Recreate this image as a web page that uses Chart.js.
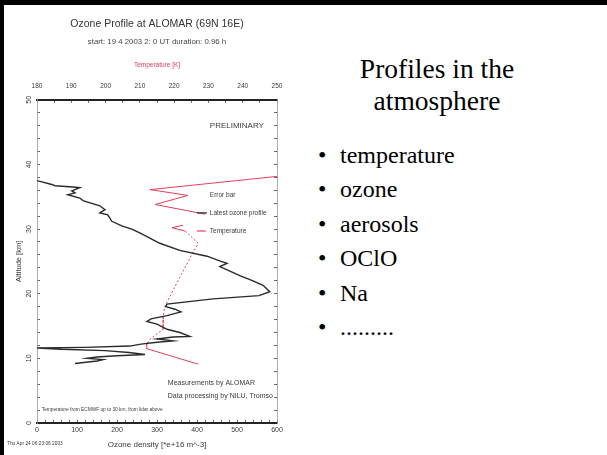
<!DOCTYPE html>
<html>
<head>
<meta charset="utf-8">
<script src="https://cdn.jsdelivr.net/npm/chart.js@4.4.0/dist/chart.umd.min.js"></script>
<style>
    body { margin: 0; width: 607px; height: 455px; overflow: hidden; background: #fff; position: relative; font-family: 'Liberation Serif', 'Times New Roman', serif; }
    #frameTop { position: absolute; left: 0; top: 0; width: 607px; height: 5px; background: #000; }
    #frameLeft { position: absolute; left: 0; top: 0; width: 4px; height: 455px; background: #000; }
    #chartBox { position: absolute; left: 0; top: 0; width: 300px; height: 455px; }
    #heading { position: absolute; left: 300px; top: 53px; width: 274px; text-align: center; font-size: 27.5px; line-height: 32px; color: #000; }
    #bullets { position: absolute; left: 318px; top: 138px; margin: 0; padding: 0; list-style: none; font-size: 24px; line-height: 34.4px; color: #000; }
    #bullets li { position: relative; padding-left: 22px; }
    #bullets li::before { content: '\2022'; position: absolute; left: 0; }
</style>
</head>
<body>
<div id="chartBox"><canvas id="ozoneChart" width="300" height="455"></canvas></div>
<div id="frameTop"></div>
<div id="frameLeft"></div>
<div id="heading">Profiles in the<br>atmosphere</div>
<ul id="bullets">
    <li>temperature</li>
    <li>ozone</li>
    <li>aerosols</li>
    <li>OClO</li>
    <li>Na</li>
    <li>.........</li>
</ul>
<script>
// ozone profile (altitude km, density 1e16 m^-3), read top to bottom
const ozoneAltitude = [37.5, 36.9, 36.7, 36.5, 36.4, 35.9, 35.6, 35.3, 34.8, 34.4, 33.6, 33.0, 32.5, 32.2, 31.2, 30.5, 30.0, 29.4,
    28.6, 27.8, 26.7, 25.8, 25.0, 24.7, 24.2, 23.4, 22.8, 22.0, 21.3, 20.3, 19.7, 19.2, 18.4, 18.0, 17.6, 17.2, 16.6, 16.1,
    15.7, 15.3, 14.5, 14.0, 13.4, 13.3, 13.0, 12.7, 12.5, 12.2, 11.9, 11.7, 11.6, 11.4, 11.2, 10.9, 10.6, 10.4, 10.2, 10.0,
    9.8, 9.6, 9.2];
const ozoneDensity = [0, 37, 45, 90, 107, 87, 95, 77, 107, 115, 157, 170, 157, 177, 187, 212, 237, 257,
    282, 307, 357, 425, 460, 475, 457, 485, 507, 540, 565, 582, 555, 440, 325, 322, 345, 360, 325, 285,
    275, 300, 325, 357, 382, 340, 300, 340, 300, 260, 232, 120, 0, 60, 170, 230, 270, 200, 150, 125,
    165, 150, 95];

// temperature (altitude km, K): lidar above 30 km, ECMWF below
const tempAltitude = [38.2, 36.1, 35.2, 33.8, 32.3, null, 30.6, 30.2, 29.7, 27.8, 25.5, 23.9, 18.1, 16.4, 14.5, 13.0, 12.2, 11.5, 9.1];
const temperatureK = [251, 213, 224, 214.5, 229, null, 222.6, 219.4, 223.2, 227, 224.6, 223, 217.3, 216.8, 216.8, 213, 212, 212, 227];

const altitudeTicks = [0, 10, 20, 30, 40, 50];
const ozoneTicks = [0, 100, 200, 300, 400, 500, 600];
const temperatureTicks = [180, 190, 200, 210, 220, 230, 240, 250];

const RED = '#e0405a';
const TEXT = '#3a3a3a';

function minorTicks(min, max, step) {
    const out = [];
    for (let v = min; v <= max + 1e-9; v += step) out.push({ value: Math.round(v * 100) / 100 });
    return out;
}

const annotations = {
    id: 'annotations',
    afterDraw(chart) {
        const ctx = chart.ctx;
        const xs = chart.scales.x, ys = chart.scales.y;
        const px = (v) => xs.getPixelForValue(v);
        const py = (v) => ys.getPixelForValue(v);
        ctx.save();
        ctx.fillStyle = TEXT;
        ctx.textBaseline = 'middle';
        ctx.textAlign = 'left';
        ctx.font = '8px "Liberation Sans", Arial, sans-serif';
        ctx.fillText('PRELIMINARY', px(432), py(45.9));

        ctx.font = '6.5px "Liberation Sans", Arial, sans-serif';
        ctx.fillText('Error bar', px(432), py(35.2));
        ctx.fillText('Latest ozone profile', px(432), py(32.5));
        ctx.fillText('Temperature', px(432), py(29.7));
        // legend samples
        ctx.lineWidth = 1.2;
        ctx.strokeStyle = '#222';
        ctx.beginPath();
        ctx.moveTo(px(400), py(32.5));
        ctx.lineTo(px(425), py(32.5));
        ctx.stroke();
        ctx.strokeStyle = RED;
        ctx.beginPath();
        ctx.moveTo(px(400), py(29.7));
        ctx.lineTo(px(422), py(29.7));
        ctx.stroke();

        ctx.font = '7px "Liberation Sans", Arial, sans-serif';
        ctx.fillText('Measurements by ALOMAR', px(327), py(6.25));
        ctx.fillText('Data processing by NILU, Tromso', px(327), py(4.2));

        ctx.font = '4.8px "Liberation Sans", Arial, sans-serif';
        ctx.fillText('Temperature from ECMWF up to 30 km, from lidar above', px(12), py(2.0));
        ctx.fillText('Thu Apr 24 06:23:06 2003', 7, 444);
        ctx.restore();
    }
};

const ozoneData = ozoneAltitude.map((a, i) => ({ x: ozoneDensity[i], y: a }));
const tempData = tempAltitude.map((a, i) => ({ x: temperatureK[i], y: a }));

Chart.defaults.font.family = '"Liberation Sans", Arial, sans-serif';
Chart.defaults.color = TEXT;

new Chart(document.getElementById('ozoneChart').getContext('2d'), {
    type: 'line',
    data: {
        datasets: [{
            label: 'Latest ozone profile',
            data: ozoneData,
            xAxisID: 'x',
            yAxisID: 'y',
            borderColor: '#2a2a2a',
            borderWidth: 1.4,
            pointRadius: 0,
            tension: 0
        }, {
            label: 'Temperature',
            data: tempData,
            xAxisID: 'x2',
            yAxisID: 'y',
            borderColor: RED,
            borderWidth: 1,
            pointRadius: 0,
            tension: 0,
            segment: {
                borderDash: (c) => (c.p0.parsed.y <= 29.7 && c.p1.parsed.y >= 11.4) ? [2, 2] : undefined
            }
        }]
    },
    options: {
        responsive: false,
        devicePixelRatio: 1,
        animation: false,
        layout: { padding: { left: 0, right: 20, top: 0, bottom: 0 } },
        plugins: {
            legend: { display: false },
            tooltip: { enabled: false },
            title: {
                display: true,
                fullSize: false,
                text: 'Ozone Profile at ALOMAR (69N 16E)',
                color: '#333',
                font: { size: 10.5, weight: 'normal' },
                padding: { top: 18, bottom: 4 }
            },
            subtitle: {
                display: true,
                fullSize: false,
                text: 'start: 19 4 2003 2: 0 UT duration: 0.96 h',
                color: '#444',
                font: { size: 7.8, weight: 'normal' },
                padding: { top: 2.5, bottom: 0 }
            }
        },
        scales: {
            x: {
                type: 'linear',
                position: 'bottom',
                min: 0,
                max: 600,
                afterFit: (s) => { s.height = 32; },
                afterBuildTicks: (s) => { s.ticks = minorTicks(0, 600, 20); },
                ticks: {
                    autoSkip: false,
                    maxRotation: 0,
                    padding: 5.8,
                    font: { size: 7 },
                    callback: (v) => ozoneTicks.includes(v) ? String(v) : ''
                },
                grid: { drawOnChartArea: false, tickLength: -3, color: '#666' },
                border: { color: '#222', width: 2 },
                title: {
                    display: true,
                    text: 'Ozone density [*e+16 m^-3]',
                    font: { size: 8 },
                    padding: { top: 0, bottom: 5.2 }
                }
            },
            x2: {
                type: 'linear',
                position: 'top',
                min: 180,
                max: 250,
                afterFit: (s) => { s.height = 53.3; },
                afterBuildTicks: (s) => { s.ticks = minorTicks(180, 250, 5); },
                ticks: {
                    autoSkip: false,
                    maxRotation: 0,
                    padding: 12.5,
                    font: { size: 6.5 },
                    callback: (v) => temperatureTicks.includes(v) ? String(v) : ''
                },
                grid: { drawOnChartArea: false, tickLength: -3, color: '#666' },
                border: { color: '#222', width: 2 },
                title: {
                    display: true,
                    text: 'Temperature [K]',
                    color: RED,
                    font: { size: 6.5 },
                    padding: { top: 14.5, bottom: 0 }
                }
            },
            y: {
                type: 'linear',
                position: 'left',
                min: 0,
                max: 50,
                afterFit: (s) => { s.width = 37; },
                afterBuildTicks: (s) => { s.ticks = minorTicks(0, 50, 2); },
                ticks: {
                    autoSkip: false,
                    minRotation: 90,
                    maxRotation: 90,
                    crossAlign: 'center',
                    padding: 6.6,
                    font: { size: 7 },
                    callback: (v) => altitudeTicks.includes(v) ? String(v) : ''
                },
                grid: { drawOnChartArea: false, tickLength: -3, color: '#666' },
                border: { color: '#999', width: 0.8 },
                title: {
                    display: true,
                    text: 'Altitude [km]',
                    font: { size: 7.5 },
                    padding: { top: 14.5, bottom: 0 }
                }
            },
            y2: {
                type: 'linear',
                position: 'right',
                min: 0,
                max: 50,
                afterFit: (s) => { s.width = 3; },
                afterBuildTicks: (s) => { s.ticks = minorTicks(0, 50, 2); },
                ticks: { display: false },
                grid: { drawOnChartArea: false, tickLength: -3, color: '#666' },
                border: { color: '#999', width: 0.8 }
            }
        }
    },
    plugins: [annotations]
});
</script>
</body>
</html>
